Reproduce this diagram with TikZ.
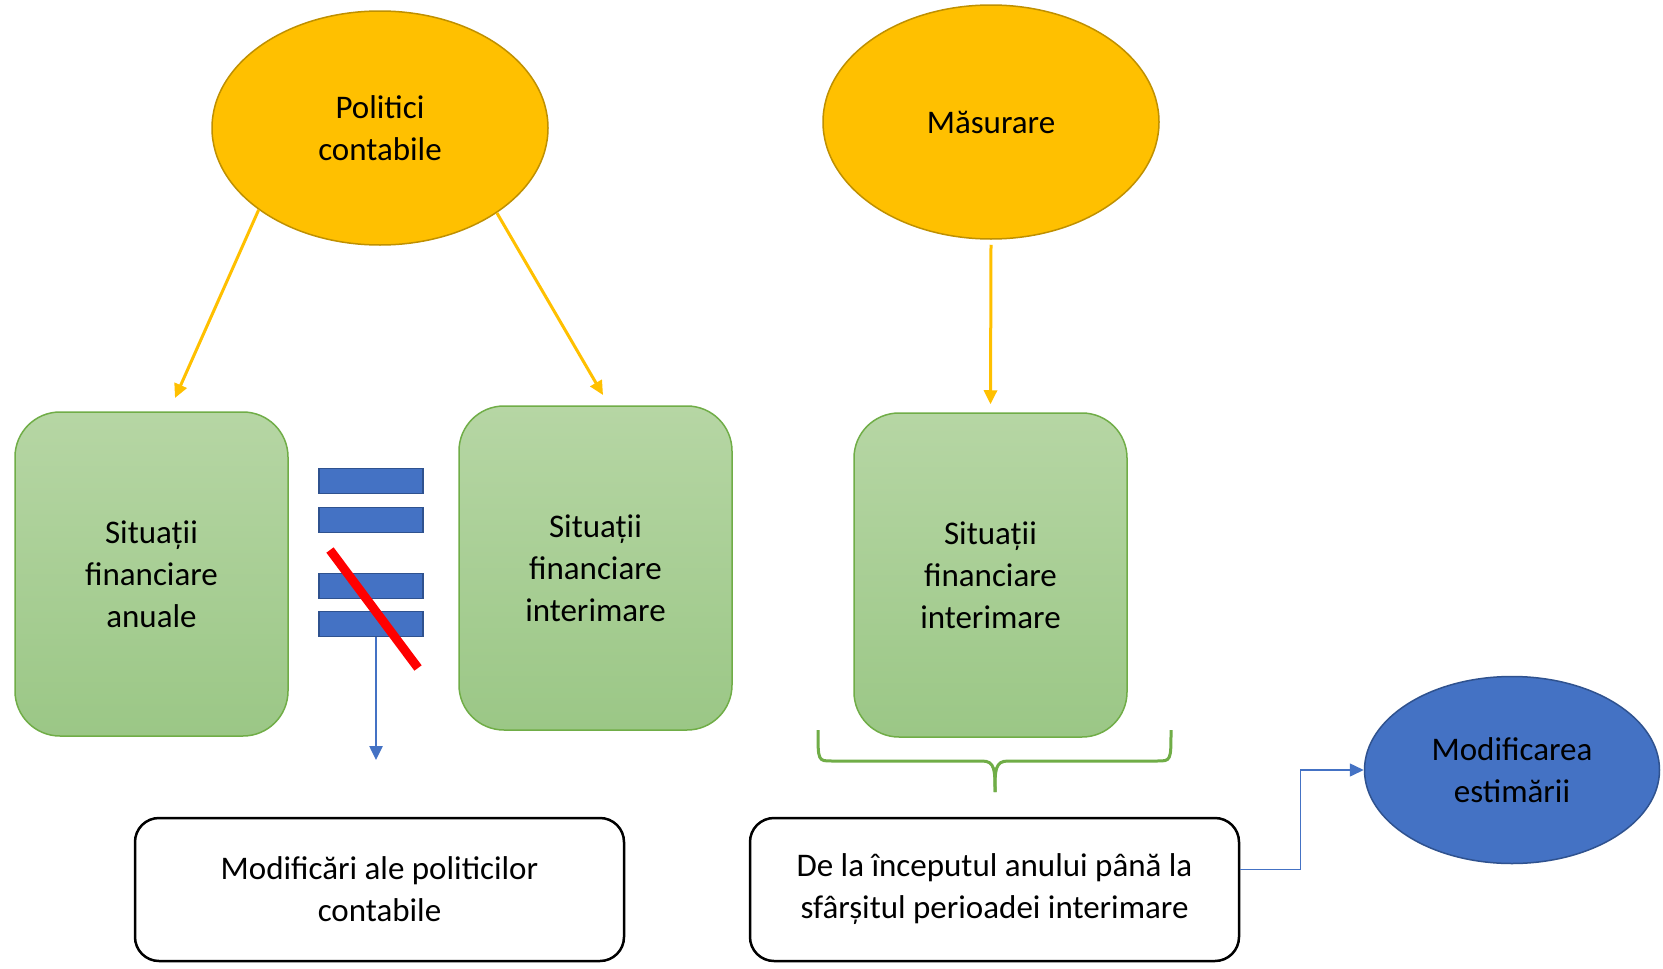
\documentclass[tikz,border=0pt]{standalone}
\usepackage{fontspec}
\setmainfont{Carlito}
\usetikzlibrary{shapes.geometric,arrows.meta}
\definecolor{gold}{HTML}{FFC000}
\definecolor{golddark}{HTML}{BF9000}
\definecolor{grnline}{HTML}{70AD47}
\definecolor{grntop}{HTML}{B6D6A4}
\definecolor{grnbot}{HTML}{9BC786}
\definecolor{blu}{HTML}{4472C4}
\definecolor{bludark}{HTML}{2F528F}
\tikzset{
  goldell/.style={ellipse, draw=golddark, line width=1.5pt, fill=gold, minimum width=336pt, minimum height=234pt, inner sep=0pt, align=center},
  grnbox/.style={rectangle, rounded corners=45pt, draw=grnline, line width=1.5pt, top color=grntop, bottom color=grnbot, minimum width=273pt, minimum height=324pt, inner sep=0pt, align=center},
  whitebox/.style={rectangle, rounded corners=24pt, draw=black, line width=2.5pt, fill=white, minimum width=489pt, minimum height=143pt, inner sep=0pt, align=center},
  bar/.style={rectangle, draw=bludark, line width=1.5pt, fill=blu, minimum width=104pt, minimum height=25pt, inner sep=0pt},
  goldarrow/.style={draw=gold, line width=3pt, -{Triangle[length=14pt,width=13pt]}},
  bluarrow/.style={draw=blu, line width=2.5pt, -{Triangle[length=14pt,width=13pt]}},
}
\begin{document}
\begin{tikzpicture}[x=1pt,y=-1pt,font=\fontsize{33}{42}\selectfont]
\useasboundingbox[fill=white] (0,0) rectangle (1663,969);
% ellipses
\node[goldell] (pc) at (380,128) {Politici\\contabile};
\node[goldell] (ms) at (991,122) {Măsurare};
% green boxes
\node[grnbox] (b1) at (151.5,574) {Situații\\financiare\\anuale};
\node[grnbox] (b2) at (595.5,568) {Situații\\financiare\\interimare};
\node[grnbox] (b3) at (990.5,575) {Situații\\financiare\\interimare};
% bars
\node[bar] (bar1) at (371,481) {};
\node[bar] (bar2) at (371,520) {};
\node[bar] (bar3) at (371,586) {};
\node[bar] (bar4) at (371,624) {};
% red cross-out line
\coordinate (r1) at (330,550);
\coordinate (r2) at (418,668);
\draw[red, line width=9pt] (r1) -- (r2);
% bottom boxes
\node[whitebox] (bb1) at (379.5,889.5) {Modificări ale politicilor\\contabile};
\node[whitebox] (bb2) at (994.5,889.5) {De la începutul anului până la\\sfârșitul perioadei interimare};
% blue ellipse
\node[ellipse, draw=bludark, line width=1.5pt, fill=blu, minimum width=295pt, minimum height=187pt, inner sep=0pt, align=center] (me) at (1512,770) {Modificarea\\estimării};
% arrows
\coordinate (e1) at (175,398);
\coordinate (e2) at (603,395);
\draw[goldarrow] (pc.214.7) -- (e1);
\draw[goldarrow] (pc.324.6) -- (e2);
\draw[goldarrow] ([yshift=-5pt]ms.south) -- ([yshift=8pt]b3.north);
\coordinate (e4) at (376,760);
\draw[bluarrow] ([xshift=5pt]bar4.south) -- (e4);
\draw[blu, line width=1.5pt, -{Triangle[length=14pt,width=13pt]}] ([yshift=20pt]bb2.east) -- ++(60,0) |- (me.west);
% brace
\coordinate (bl) at (818,730);
\coordinate (br) at (1171,730);
\coordinate (bt) at (995,792);
\draw[grnline, line width=3pt] (bl) .. controls (818,761) and (818,761) .. (832,761) -- (982,761) .. controls (995,761) and (995,770) .. (bt);
\draw[grnline, line width=3pt] (br) .. controls (1171,761) and (1171,761) .. (1157,761) -- (1008,761) .. controls (995,761) and (995,770) .. (bt);
\end{tikzpicture}
\end{document}
